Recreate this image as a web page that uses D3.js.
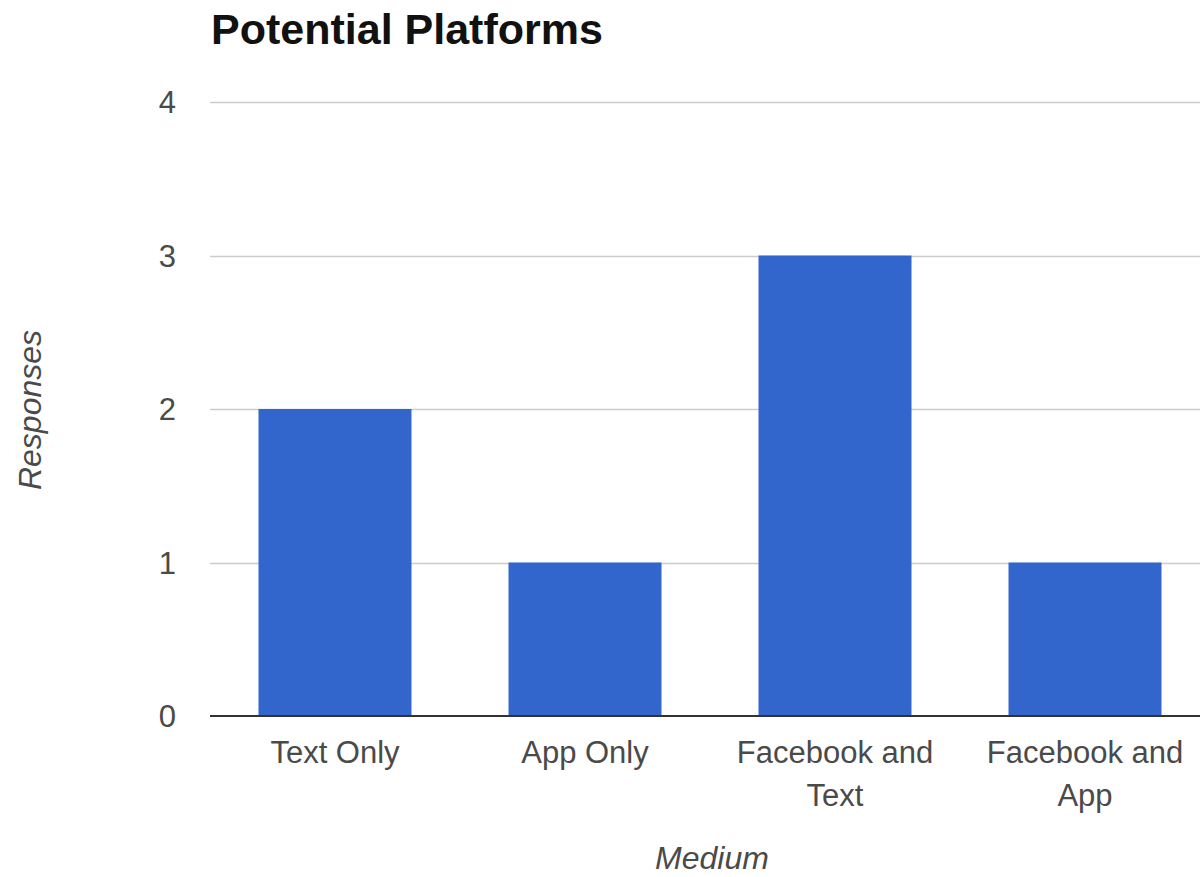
<!DOCTYPE html>
<meta charset="utf-8">
<style>
body { margin: 0; background: #fff; }
svg { display: block; font-family: "Liberation Sans", Arial, sans-serif; }
.title { font-size: 43px; font-weight: bold; fill: #111; }
.tick-label { font-size: 31px; fill: #4a4a4a; }
.axis-title { font-size: 32px; font-style: italic; fill: #4a4a4a; }
.grid line { stroke: #ccc; stroke-width: 1.5px; }
.baseline { stroke: #333; stroke-width: 2px; }
.bar { fill: #3366cc; }
</style>
<body>
<script src="https://cdnjs.cloudflare.com/ajax/libs/d3/7.8.5/d3.min.js"></script>
<script>

// chart data
var categories = ["Text Only", "App Only", "Facebook and Text", "Facebook and App"];
var responses = [2, 1, 3, 1];
var yTicks = [0, 1, 2, 3, 4];

var width = 1200, height = 877;
var margin = {left: 210, top: 102, bottom: 161};

var svg = d3.select("body").append("svg")
    .attr("width", width)
    .attr("height", height);

// plot area runs a bit past the right edge, like the cropped original
var x = d3.scaleBand()
    .domain(categories)
    .range([margin.left, margin.left + 1000])
    .paddingInner(0.388)
    .paddingOuter(0.194);

var y = d3.scaleLinear()
    .domain([0, 4])
    .range([height - margin.bottom, margin.top]);

svg.append("text")
    .attr("class", "title")
    .attr("x", 211)
    .attr("y", 44)
    .text("Potential Platforms");

// gridlines
svg.append("g")
    .attr("class", "grid")
  .selectAll("line")
  .data(yTicks.filter(function(d) { return d > 0; }))
  .enter().append("line")
    .attr("x1", margin.left)
    .attr("x2", width)
    .attr("y1", function(d) { return Math.round(y(d)) + 0.5; })
    .attr("y2", function(d) { return Math.round(y(d)) + 0.5; });

// y tick labels
svg.append("g")
  .selectAll("text")
  .data(yTicks)
  .enter().append("text")
    .attr("class", "tick-label")
    .attr("x", 176)
    .attr("y", function(d) { return y(d); })
    .attr("dy", "0.36em")
    .attr("text-anchor", "end")
    .text(function(d) { return d; });

// bars
svg.append("g")
  .selectAll("rect")
  .data(responses)
  .enter().append("rect")
    .attr("class", "bar")
    .attr("x", function(d, i) { return x(categories[i]); })
    .attr("width", x.bandwidth())
    .attr("y", function(d) { return y(d); })
    .attr("height", function(d) { return y(0) - y(d); });

svg.append("line")
    .attr("class", "baseline")
    .attr("x1", margin.left)
    .attr("x2", width)
    .attr("y1", y(0))
    .attr("y2", y(0));

// x labels, wrapped after "and"
function wrapLabel(s) {
  var k = s.indexOf(" and ");
  return k < 0 ? [s] : [s.slice(0, k + 4), s.slice(k + 5)];
}

var xl = svg.append("g")
  .selectAll("text")
  .data(categories)
  .enter().append("text")
    .attr("class", "tick-label")
    .attr("text-anchor", "middle")
    .attr("x", function(d) { return x(d) + x.bandwidth() / 2; })
    .attr("y", 763);

xl.selectAll("tspan")
  .data(function(d) { return wrapLabel(d).map(function(t) { return {t: t, x: x(d) + x.bandwidth() / 2}; }); })
  .enter().append("tspan")
    .attr("x", function(d) { return d.x; })
    .attr("dy", function(d, i) { return i ? 43 : 0; })
    .text(function(d) { return d.t; });

svg.append("text")
    .attr("class", "axis-title")
    .attr("x", 712)
    .attr("y", 869)
    .attr("text-anchor", "middle")
    .text("Medium");

svg.append("text")
    .attr("class", "axis-title")
    .attr("transform", "translate(41," + 410 + ") rotate(-90)")
    .attr("text-anchor", "middle")
    .text("Responses");

</script>
</body>
